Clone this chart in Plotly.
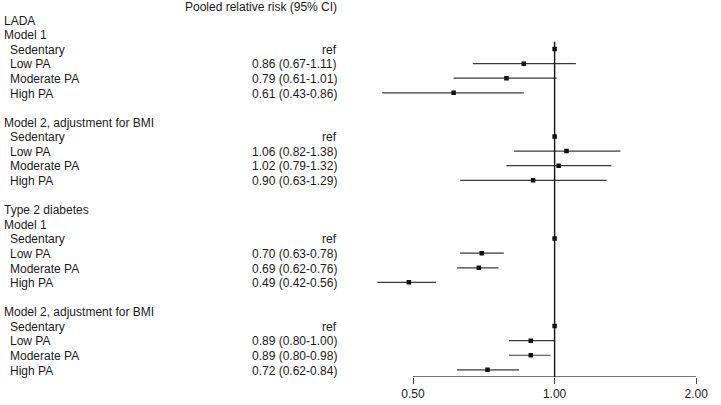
import math
import plotly.graph_objects as go

# ---- data ----
row_labels = ["LADA", "Model 1", "Sedentary", "Low PA", "Moderate PA", "High PA", "",
              "Model 2, adjustment for BMI", "Sedentary", "Low PA", "Moderate PA", "High PA", "",
              "Type 2 diabetes", "Model 1", "Sedentary", "Low PA", "Moderate PA", "High PA", "",
              "Model 2, adjustment for BMI", "Sedentary", "Low PA", "Moderate PA", "High PA"]
is_category = [False, False, True, True, True, True, False,
               False, True, True, True, True, False,
               False, False, True, True, True, True, False,
               False, True, True, True, True]
est = [None, None, 1.00, 0.86, 0.79, 0.61, None,
       None, 1.00, 1.06, 1.02, 0.90, None,
       None, None, 1.00, 0.70, 0.69, 0.49, None,
       None, 1.00, 0.89, 0.89, 0.72]
lo = [None, None, None, 0.67, 0.61, 0.43, None,
      None, None, 0.82, 0.79, 0.63, None,
      None, None, None, 0.63, 0.62, 0.42, None,
      None, None, 0.80, 0.80, 0.62]
hi = [None, None, None, 1.11, 1.01, 0.86, None,
      None, None, 1.38, 1.32, 1.29, None,
      None, None, None, 0.78, 0.76, 0.56, None,
      None, None, 1.00, 0.98, 0.84]
header = "Pooled relative risk (95% CI)"
tick_vals = [0.5, 1.0, 2.0]
tick_text = ["0.50", "1.00", "2.00"]
axis_span = [0.5, 2.0]

W, H = 721, 405
FONT = "Liberation Sans, Arial, sans-serif"
TXT = "#1a1a1a"

rows = list(range(1, len(row_labels) + 1))

# CI lines
ci_x, ci_y = [], []
for r, l, h in zip(rows, lo, hi):
    if l is not None:
        ci_x += [l, h, None]
        ci_y += [r, r, None]

pt_x = [e for e in est if e is not None]
pt_y = [r for r, e in zip(rows, est) if e is not None]

Y_BOTTOM = 25.49  # axis position (row units)

fig = go.Figure()
fig.add_trace(go.Scatter(x=ci_x, y=ci_y, mode="lines",
                         line=dict(color="#3a3a3a", width=1.2),
                         hoverinfo="skip", showlegend=False))
# reference line at 1
fig.add_trace(go.Scatter(x=[1.0, 1.0], y=[2.5, Y_BOTTOM], mode="lines",
                         line=dict(color="#111111", width=1.4),
                         hoverinfo="skip", showlegend=False))
fig.add_trace(go.Scatter(x=pt_x, y=pt_y, mode="markers",
                         marker=dict(symbol="square", size=4.5, color="#111111"),
                         showlegend=False))
# axis line spanning 0.5 - 2
fig.add_trace(go.Scatter(x=axis_span, y=[Y_BOTTOM, Y_BOTTOM], mode="lines",
                         line=dict(color="#444444", width=1.3),
                         hoverinfo="skip", showlegend=False, cliponaxis=False))

ann = [dict(text=header, x=345 / W, xref="paper", y=0.15, yref="y",
            xanchor="right", align="right", yanchor="middle", showarrow=False,
            font=dict(family=FONT, size=12, color=TXT))]
for r, lab, cat, e, l, h in zip(rows, row_labels, is_category, est, lo, hi):
    if lab:
        ann.append(dict(text=lab, x=(8 if cat else 2) / W, xref="paper", y=r + 0.05, yref="y",
                        xanchor="left", align="left", yanchor="middle", showarrow=False,
                        font=dict(family=FONT, size=12, color=TXT)))
    if e is not None:
        val = "ref" if l is None else f"{e:.2f} ({l:.2f}-{h:.2f})"
        ann.append(dict(text=val, x=345 / W, xref="paper", y=r + 0.05, yref="y",
                        xanchor="right", align="right", yanchor="middle", showarrow=False,
                        font=dict(family=FONT, size=12, color=TXT)))

# x domain: from pixel 370 to 708 (2.00), log scale 144 px per doubling
px_per_dec = 144 / math.log10(2)
left_log = math.log10(0.5) - (420 - 370) / px_per_dec

fig.update_layout(
    width=W, height=H, autosize=False,
    margin=dict(l=0, r=0, t=0, b=28),
    paper_bgcolor="white", plot_bgcolor="white",
    font=dict(family=FONT, size=12, color=TXT),
    annotations=ann,
    xaxis=dict(type="log", domain=[370 / W, 708 / W],
               range=[left_log, math.log10(2)],
               tickvals=tick_vals, ticktext=tick_text,
               showgrid=False, zeroline=False, showline=False,
               ticks="outside", ticklen=6, tickwidth=1.3, tickcolor="#444444",
               tickfont=dict(family=FONT, size=12, color=TXT)),
    yaxis=dict(range=[Y_BOTTOM, -0.3635], visible=False, showgrid=False, zeroline=False),
)

fig.write_html(
    "out.html",
    config={"displayModeBar": False, "responsive": False},
    post_script=("document.documentElement.style.overflow='hidden';"
                 "document.body.style.overflow='hidden';"
                 "document.body.style.margin='0';document.body.style.padding='0';"),
)
